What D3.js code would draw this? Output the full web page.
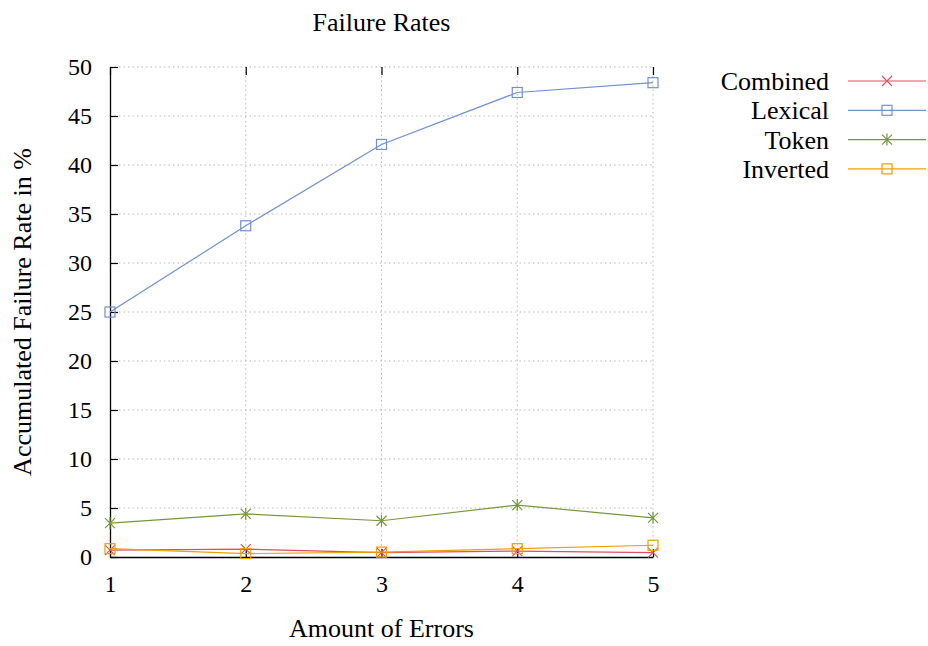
<!DOCTYPE html>
<html>
<head>
<meta charset="utf-8">
<script src="https://cdn.jsdelivr.net/npm/d3@7"></script>
<style>
  body { margin: 0; background: #fff; }
  text { font-family: "Liberation Serif", "DejaVu Serif", serif; fill: #000; }
</style>
</head>
<body>
<svg id="chart" width="928" height="646"></svg>
<script>
var errors = [1, 2, 3, 4, 5];
var combined = [0.7, 0.8, 0.45, 0.6, 0.45];
var lexical = [25.0, 33.8, 42.1, 47.4, 48.4];
var token = [3.45, 4.4, 3.7, 5.3, 4.0];
var inverted = [0.85, 0.35, 0.5, 0.85, 1.2];
var yTicks = [0, 5, 10, 15, 20, 25, 30, 35, 40, 45, 50];

var series = [
  { name: "Combined", values: combined, color: "#dd5060", marker: "cross" },
  { name: "Lexical", values: lexical, color: "#7090d0", marker: "square" },
  { name: "Token", values: token, color: "#75973a", marker: "star" },
  { name: "Inverted", values: inverted, color: "#eea000", marker: "square" }
];

var margin = { top: 67, right: 275, bottom: 89, left: 110 };
var width = 928 - margin.left - margin.right;
var height = 646 - margin.top - margin.bottom;

var svg = d3.select("#chart");
var g = svg.append("g")
  .attr("transform", `translate(${margin.left}, ${margin.top})`);

var x = d3.scaleLinear().domain([1, 5]).range([0, width]);
var y = d3.scaleLinear().domain([0, 50]).range([height, 0]);

// grid
g.append("g").selectAll("line")
  .data(yTicks.filter(d => d > 0))
  .enter().append("line")
  .attr("x1", 0).attr("x2", width)
  .attr("y1", d => y(d)).attr("y2", d => y(d))
  .attr("stroke", "#bbb").attr("stroke-width", 1)
  .attr("stroke-dasharray", "1.5,3");
g.append("g").selectAll("line")
  .data(errors.filter(d => d > 1))
  .enter().append("line")
  .attr("x1", d => x(d)).attr("x2", d => x(d))
  .attr("y1", 0).attr("y2", height)
  .attr("stroke", "#bbb").attr("stroke-width", 1)
  .attr("stroke-dasharray", "1.5,3");

// axes
var yAxis = g.append("g")
  .call(d3.axisLeft(y).tickValues(yTicks).tickSizeInner(-8).tickSizeOuter(0).tickPadding(18));
var xAxis = g.append("g")
  .attr("transform", `translate(0, ${height})`)
  .call(d3.axisBottom(x).tickValues(errors).tickFormat(d3.format("d")).tickSizeInner(-8).tickSizeOuter(0).tickPadding(18));
var xTop = g.append("g")
  .call(d3.axisTop(x).tickValues(errors).tickSizeInner(-8).tickSizeOuter(0).tickFormat(""));
xTop.select(".domain").remove();
[yAxis, xAxis, xTop].forEach(a => {
  a.selectAll("line").attr("stroke", "#000").attr("stroke-width", 1.2);
  a.selectAll("text").style("font-size", "24px").style("font-family", "Liberation Serif");
});
yAxis.select(".domain").attr("stroke-width", 1.3);
xAxis.select(".domain").attr("stroke-width", 1.3);

// lines
var line = d3.line().x((d, i) => x(errors[i])).y(d => y(d));

function marker(sel, type, color) {
  var s = 5;
  if (type === "square") {
    sel.append("rect").attr("x", -s).attr("y", -s).attr("width", 2 * s).attr("height", 2 * s)
      .attr("fill", "none").attr("stroke", color).attr("stroke-width", 1.2);
  } else {
    sel.append("path").attr("d", `M${-s},${-s}L${s},${s}M${-s},${s}L${s},${-s}` +
        (type === "star" ? `M0,${-s - 1}L0,${s + 1}` : ""))
      .attr("stroke", color).attr("stroke-width", 1.2).attr("fill", "none");
  }
}

series.forEach(function (s) {
  g.append("path").datum(s.values)
    .attr("d", line).attr("fill", "none")
    .attr("stroke", s.color).attr("stroke-width", 1.2);
  s.values.forEach(function (v, i) {
    var m = g.append("g").attr("transform", `translate(${x(errors[i])}, ${y(v)})`);
    marker(m, s.marker, s.color);
  });
});

// legend
var legend = svg.append("g").attr("transform", "translate(0, 81)");
series.forEach(function (s, i) {
  var row = legend.append("g").attr("transform", `translate(0, ${i * 29.3})`);
  row.append("text").attr("x", 829).attr("y", 0).attr("dy", "0.35em")
    .attr("text-anchor", "end").style("font-size", "26px").text(s.name);
  row.append("line").attr("x1", 848).attr("x2", 926).attr("y1", 0).attr("y2", 0)
    .attr("stroke", s.color).attr("stroke-width", 1.2);
  var m = row.append("g").attr("transform", "translate(887, 0)");
  marker(m, s.marker, s.color);
});

// titles
svg.append("text").attr("x", margin.left + width / 2).attr("y", 31)
  .attr("text-anchor", "middle").style("font-size", "26px").text("Failure Rates");
svg.append("text").attr("x", margin.left + width / 2).attr("y", 637)
  .attr("text-anchor", "middle").style("font-size", "26px").text("Amount of Errors");
svg.append("text")
  .attr("transform", "translate(31, 312) rotate(-90)")
  .attr("text-anchor", "middle").style("font-size", "26px").text("Accumulated Failure Rate in %");
</script>
</body>
</html>
